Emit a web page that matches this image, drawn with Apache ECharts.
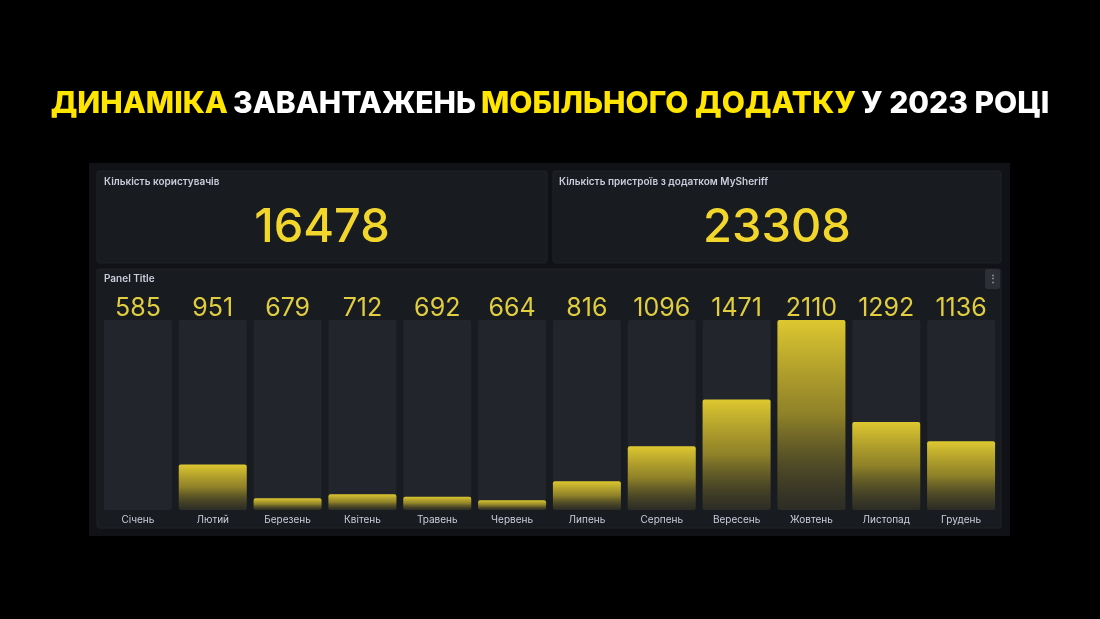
<!DOCTYPE html>
<html>
<head>
<meta charset="utf-8">
<script src="https://cdn.jsdelivr.net/npm/echarts@6/dist/echarts.min.js"></script>
<style>
  html, body { margin: 0; padding: 0; background: #000; }
  #main { width: 1100px; height: 619px; }
</style>
</head>
<body>
<div id="main"></div>
<script>
// дані з дашборду
var months = ['Січень', 'Лютий', 'Березень', 'Квітень', 'Травень', 'Червень',
  'Липень', 'Серпень', 'Вересень', 'Жовтень', 'Листопад', 'Грудень'];
var downloads = [585, 951, 679, 712, 692, 664, 816, 1096, 1471, 2110, 1292, 1136];
var statTitles = ['Кількість користувачів', 'Кількість пристроїв з додатком MySheriff'];
var statValues = [16478, 23308];

var YELLOW = '#FFE500';
var FONT = 'Inter, "Noto Sans", sans-serif';

var myChart = echarts.init(document.getElementById('main'));

var minV = Math.min.apply(null, downloads);
var maxV = Math.max.apply(null, downloads);

var option = {
  backgroundColor: '#000',
  animation: false,
  title: {
    text: '{y|ДИНАМІКА} {w|ЗАВАНТАЖЕНЬ} {y|МОБІЛЬНОГО ДОДАТКУ} {w|У 2023 РОЦІ}',
    left: 'center',
    top: 84,
    textStyle: {
      rich: {
        y: { color: YELLOW, fontSize: 30, fontWeight: 800, fontFamily: FONT },
        w: { color: '#fff', fontSize: 30, fontWeight: 800, fontFamily: FONT }
      }
    }
  },
  graphic: [
    // фон дашборду
    { type: 'rect', shape: { x: 89, y: 163, width: 921, height: 373 }, style: { fill: '#111217' }, z: -10 },
    // панелі
    { type: 'rect', shape: { x: 97, y: 171, width: 450, height: 92, r: 2 }, style: { fill: '#181b1f', stroke: '#202226', lineWidth: 1 }, z: -9 },
    { type: 'rect', shape: { x: 553, y: 171, width: 448, height: 92, r: 2 }, style: { fill: '#181b1f', stroke: '#202226', lineWidth: 1 }, z: -9 },
    { type: 'rect', shape: { x: 97, y: 269, width: 904, height: 259, r: 2 }, style: { fill: '#181b1f', stroke: '#202226', lineWidth: 1 }, z: -9 },
    // заголовки панелей
    { type: 'text', x: 104, y: 182, style: { text: statTitles[0], fill: '#ccccdc', font: '600 10px ' + FONT, verticalAlign: 'middle' } },
    { type: 'text', x: 559, y: 182, style: { text: statTitles[1], fill: '#ccccdc', font: '600 10px ' + FONT, verticalAlign: 'middle' } },
    { type: 'text', x: 104, y: 279, style: { text: 'Panel Title', fill: '#ccccdc', font: '600 10px ' + FONT, verticalAlign: 'middle' } },
    // великі числа
    { type: 'text', x: 322, y: 228, style: { text: String(statValues[0]), fill: '#F2D62C', font: '500 47px ' + FONT, align: 'center', verticalAlign: 'middle' } },
    { type: 'text', x: 777, y: 228, style: { text: String(statValues[1]), fill: '#F2D62C', font: '500 47px ' + FONT, align: 'center', verticalAlign: 'middle' } },
    // кнопка меню
    { type: 'rect', shape: { x: 985, y: 269, width: 15, height: 20, r: 2 }, style: { fill: '#2c2f35' } },
    { type: 'text', x: 992.5, y: 279, style: { text: '⋮', fill: '#9fa1a6', font: 'bold 10px ' + FONT, align: 'center', verticalAlign: 'middle' } }
  ],
  grid: {
    left: 100.5,
    right: 101.5,
    top: 320,
    bottom: 109
  },
  xAxis: [
    {
      type: 'category',
      data: months,
      axisLine: { show: false },
      axisTick: { show: false },
      axisLabel: { color: '#ccccdc', fontSize: 10, fontFamily: FONT, margin: 5 }
    },
    {
      type: 'category',
      position: 'top',
      data: downloads.map(String),
      axisLine: { show: false },
      axisTick: { show: false },
      axisLabel: { color: '#E0CD40', fontSize: 25, fontFamily: FONT, margin: -1 }
    }
  ],
  yAxis: {
    type: 'value',
    min: minV,
    max: maxV,
    show: false,
    splitLine: { show: false }
  },
  series: [
    {
      name: 'Завантаження',
      type: 'bar',
      data: downloads,
      barWidth: 68,
      barMinHeight: 2,
      showBackground: true,
      backgroundStyle: { color: '#22252b', borderRadius: 2 },
      itemStyle: {
        borderRadius: 2,
        color: new echarts.graphic.LinearGradient(0, 0, 0, 1, [
          { offset: 0, color: 'rgba(222,200,48,1)' },
          { offset: 0.5, color: 'rgba(170,152,40,0.8)' },
          { offset: 1, color: 'rgba(60,56,30,0.4)' }
        ])
      }
    }
  ]
};

myChart.setOption(option);
</script>
</body>
</html>
